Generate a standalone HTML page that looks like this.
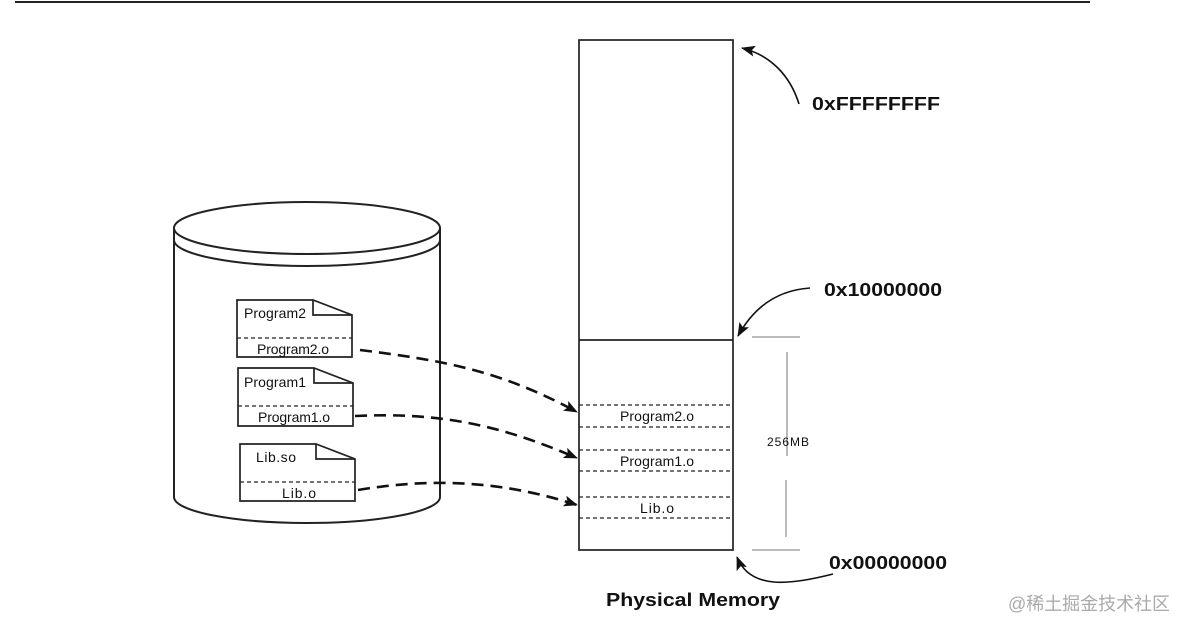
<!DOCTYPE html>
<html><head><meta charset="utf-8"><style>
html,body{margin:0;padding:0;background:#fff;}
svg{display:block;}
text{font-family:"Liberation Sans",Arial,sans-serif;fill:#111;}
</style></head><body>
<svg width="1190" height="632" viewBox="0 0 1190 632" xmlns="http://www.w3.org/2000/svg">
<defs>
<marker id="ah" markerWidth="14" markerHeight="11" refX="13" refY="5.5" orient="auto" markerUnits="userSpaceOnUse">
<path d="M0,0 L14,5.5 L0,11 L3,5.5 Z" fill="#111"/>
</marker>
</defs>
<line x1="15" y1="2" x2="1090" y2="2" stroke="#222" stroke-width="2"/>

<!-- cylinder -->
<g fill="none" stroke="#222" stroke-width="2">
<ellipse cx="307" cy="228" rx="133" ry="26"/>
<path d="M174,228 L174,240 A133,26 0 0 0 440,240 L440,228"/>
<path d="M174,240 L174,497 A133,26 0 0 0 440,497 L440,240"/>
</g>

<!-- files -->
<g fill="#fff" stroke="#222" stroke-width="1.7">
<path d="M237,300 L313,300 L352,315 L352,357 L237,357 Z"/>
<path d="M313,300 L313,315 L352,315" fill="none"/>
<path d="M238,368 L314,368 L353,383 L353,426 L238,426 Z"/>
<path d="M314,368 L314,383 L353,383" fill="none"/>
<path d="M240,444 L316,444 L355,459 L355,501 L240,501 Z"/>
<path d="M316,444 L316,459 L355,459" fill="none"/>
</g>
<g stroke="#222" stroke-width="1.3" stroke-dasharray="4,3">
<line x1="237" y1="338" x2="352" y2="338"/>
<line x1="238" y1="406" x2="353" y2="406"/>
<line x1="240" y1="482" x2="355" y2="482"/>
</g>
<g font-size="14">
<text x="244" y="318" textLength="62">Program2</text>
<text x="257" y="354" textLength="72">Program2.o</text>
<text x="244" y="387" textLength="62">Program1</text>
<text x="258" y="422" textLength="72">Program1.o</text>
<text x="256" y="462" textLength="40">Lib.so</text>
<text x="282" y="498" textLength="34">Lib.o</text>
</g>

<!-- memory -->
<g fill="none" stroke="#222" stroke-width="1.7">
<rect x="579" y="40" width="154" height="510"/>
<line x1="579" y1="340" x2="733" y2="340"/>
</g>
<g stroke="#222" stroke-width="1.3" stroke-dasharray="4,3">
<line x1="579" y1="405" x2="733" y2="405"/>
<line x1="579" y1="427" x2="733" y2="427"/>
<line x1="579" y1="450" x2="733" y2="450"/>
<line x1="579" y1="471" x2="733" y2="471"/>
<line x1="579" y1="497" x2="733" y2="497"/>
<line x1="579" y1="518" x2="733" y2="518"/>
</g>
<g font-size="14">
<text x="620" y="421" textLength="74">Program2.o</text>
<text x="620" y="466" textLength="74">Program1.o</text>
<text x="640" y="513" textLength="34">Lib.o</text>
</g>

<!-- dashed connectors -->
<g fill="none" stroke="#111" stroke-width="2.6" stroke-dasharray="12,7" marker-end="url(#ah)">
<path d="M360,350 C440,360 500,370 577,412"/>
<path d="M355,416 C440,412 500,425 577,458"/>
<path d="M358,490 C430,478 500,480 577,505"/>
</g>

<!-- 256MB -->
<g stroke="#777" stroke-width="1">
<line x1="752" y1="337" x2="800" y2="337"/>
<line x1="752" y1="550" x2="800" y2="550"/>
<line x1="787" y1="352" x2="787" y2="456"/>
<line x1="786" y1="480" x2="786" y2="537"/>
</g>
<text x="767" y="446" font-size="12" textLength="42">256MB</text>

<!-- address arrows -->
<g fill="none" stroke="#111" stroke-width="1.6" marker-end="url(#ah)">
<path d="M799,104 C790,75 770,55 742,48"/>
<path d="M810,288 C780,290 755,305 738,336"/>
<path d="M833,574 C790,585 750,590 737,557"/>
</g>
<g font-size="18" font-weight="bold">
<text x="812" y="110" textLength="128" lengthAdjust="spacingAndGlyphs">0xFFFFFFFF</text>
<text x="824" y="296" textLength="118" lengthAdjust="spacingAndGlyphs">0x10000000</text>
<text x="829" y="569" textLength="118" lengthAdjust="spacingAndGlyphs">0x00000000</text>
<text x="606" y="606" textLength="174" lengthAdjust="spacingAndGlyphs">Physical Memory</text>
</g>
<text x="1008" y="610" font-size="18" textLength="162" style="font-family:'Liberation Sans','Noto Sans CJK SC',sans-serif;fill:#aaa">@稀土掘金技术社区</text>
</svg>
</body></html>
